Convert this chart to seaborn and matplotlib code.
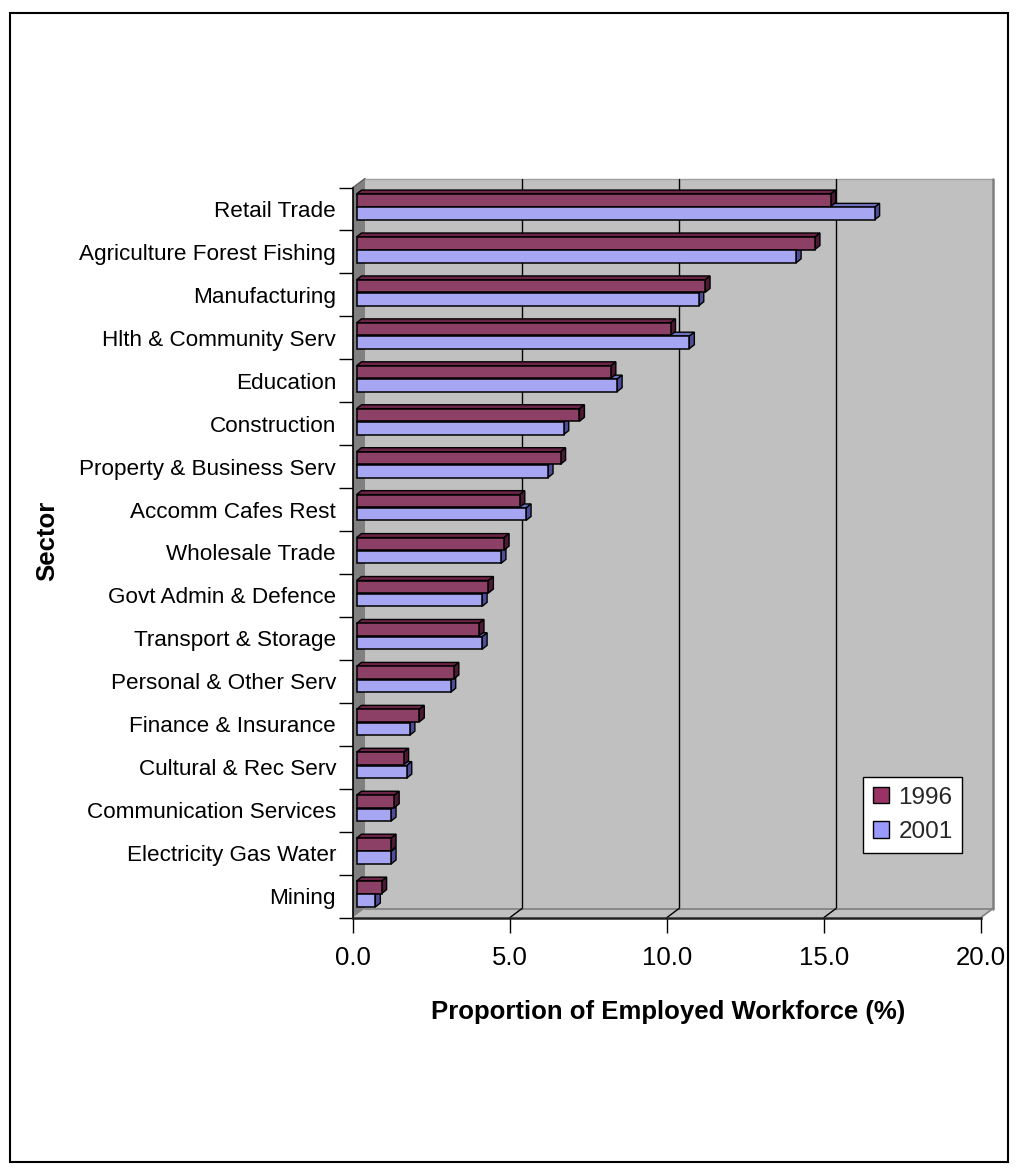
import matplotlib
matplotlib.use("Agg")
import numpy as np
import pandas as pd
import seaborn as sns
import matplotlib.pyplot as plt
from matplotlib.patches import Polygon, Rectangle
from matplotlib.lines import Line2D
from matplotlib.transforms import IdentityTransform, Affine2D

# ---------------- data ----------------
sectors = ['Retail Trade', 'Agriculture Forest Fishing', 'Manufacturing',
           'Hlth & Community Serv', 'Education', 'Construction',
           'Property & Business Serv', 'Accomm Cafes Rest', 'Wholesale Trade',
           'Govt Admin & Defence', 'Transport & Storage', 'Personal & Other Serv',
           'Finance & Insurance', 'Cultural & Rec Serv', 'Communication Services',
           'Electricity Gas Water', 'Mining']
v1996 = [15.1, 14.6, 11.1, 10.0, 8.1, 7.1, 6.5, 5.2, 4.7, 4.2, 3.9, 3.1, 2.0, 1.5, 1.2, 1.1, 0.8]
v2001 = [16.5, 14.0, 10.9, 10.6, 8.3, 6.6, 6.1, 5.4, 4.6, 4.0, 4.0, 3.0, 1.7, 1.6, 1.1, 1.1, 0.6]
years = ['1996', '2001']
xticks = [0, 5, 10, 15, 20]
xticklabels = ['0.0', '5.0', '10.0', '15.0', '20.0']

colors = ['#993366', '#9999FF']
top_cols = ['#6b2346', '#7070c0']
side_cols = ['#4d1933', '#4d4d99']

n = len(sectors)
df = pd.DataFrame({
    'Sector': sectors * 2,
    'Year': [years[0]] * n + [years[1]] * n,
    'Value': v1996 + v2001,
})

sns.set_theme(style='white')
plt.rcParams['font.family'] = ['Liberation Sans', 'DejaVu Sans']

W, H = 1018, 1176
fig = plt.figure(figsize=(W / 100, H / 100), dpi=100)
fig.patch.set_facecolor('white')

# front plane of the 3D box
L, R, T, B = 353, 981, 187.5, 917.5
ax = fig.add_axes([L / W, 1 - B / H, (R - L) / W, (B - T) / H])

sns.barplot(data=df, y='Sector', x='Value', hue='Year', orient='h',
            palette=colors, width=0.62, gap=0.06, edgecolor='black',
            linewidth=1.1, ax=ax, legend=False, zorder=3)

ax.set_xlim(0, 20)
ax.set_ylim(n - 0.5, -0.5)
ax.set_facecolor('none')

BAR = (3.5, 2.0)    # bar front face offset (pixels)
DEP = (5.0, 4.0)    # bar depth
BACK = (12.0, 9.0)  # back wall offset

bar_tr = ax.transData + Affine2D().translate(*BAR)
for p in ax.patches:
    p.set_transform(bar_tr)
    p.set_clip_on(False)


def disp(x, y, off=(0, 0)):
    X, Y = ax.transData.transform((x, y))
    return (X + off[0], Y + off[1])


def add_poly(pts, fc, ec='none', lw=0, z=1):
    poly = Polygon(pts, closed=True, facecolor=fc, edgecolor=ec, linewidth=lw,
                   transform=IdentityTransform(), zorder=z, clip_on=False)
    ax.add_artist(poly)


def add_line(p1, p2, color='black', lw=1, z=1):
    ln = Line2D([p1[0], p2[0]], [p1[1], p2[1]], color=color, linewidth=lw,
                transform=IdentityTransform(), zorder=z, clip_on=False)
    ax.add_artist(ln)


y_top, y_bot = -0.5, n - 0.5
x_min, x_max = xticks[0], xticks[-1]

# back wall
bw = [disp(x_min, y_top, BACK), disp(x_max, y_top, BACK),
      disp(x_max, y_bot, BACK), disp(x_min, y_bot, BACK)]
add_poly(bw, '#C0C0C0', z=0.5)
add_line(bw[0], bw[1], '#a0a0a0', 1, 0.6)
add_line(bw[1], bw[2], '#808080', 1.8, 0.6)
for xv in xticks[1:-1]:
    add_line(disp(xv, y_top, BACK), disp(xv, y_bot, BACK), 'black', 1.0, 0.6)

# floor
fl = [disp(x_min, y_bot), disp(x_max, y_bot),
      disp(x_max, y_bot, BACK), disp(x_min, y_bot, BACK)]
add_poly(fl, '#C0C0C0', z=0.5)
add_line(fl[2], fl[3], '#808080', 1.2, 0.6)
add_line(fl[1], fl[2], '#808080', 1.2, 0.6)
for xv in xticks[1:-1]:
    add_line(disp(xv, y_bot), disp(xv, y_bot, BACK), 'black', 1.0, 0.6)

# left side wall
lw_pts = [disp(x_min, y_top), disp(x_min, y_top, BACK),
          disp(x_min, y_bot, BACK), disp(x_min, y_bot)]
add_poly(lw_pts, '#808080', z=0.55)
add_line(lw_pts[0], lw_pts[1], '#606060', 1.0, 0.6)

# bar depth faces
for i, cont in enumerate(ax.containers):
    for p in cont.patches:
        x0, w = p.get_x(), p.get_width()
        y0, h = p.get_y(), p.get_height()
        xl, ya = disp(x0, y0, BAR)
        xr, yb_ = disp(x0 + w, y0 + h, BAR)
        yt, yb = max(ya, yb_), min(ya, yb_)
        dx, dy = DEP
        top = [(xl, yt), (xr, yt), (xr + dx, yt + dy), (xl + dx, yt + dy)]
        side = [(xr, yb), (xr, yt), (xr + dx, yt + dy), (xr + dx, yb + dy)]
        z = 1.9 + 0.05 * (len(ax.containers) - i)
        add_poly(top, top_cols[i], 'black', 1.0, z)
        add_poly(side, side_cols[i], 'black', 1.0, z)

# spines = front edges
for s in ['top', 'right']:
    ax.spines[s].set_visible(False)
ax.spines['left'].set_color('black')
ax.spines['left'].set_linewidth(1.2)
ax.spines['bottom'].set_color('#202020')
ax.spines['bottom'].set_linewidth(1.8)
ax.spines['left'].set_zorder(0.7)
ax.spines['bottom'].set_zorder(0.7)

ax.set_xticks(xticks)
ax.set_xticklabels(xticklabels, fontsize=18.5)
ax.tick_params(axis='x', bottom=True, length=10.8, width=1, color='black',
               direction='out', pad=10, labelcolor='black')

ax.set_yticks(range(n))
ax.set_yticklabels(sectors, fontsize=16.2)
ax.set_yticks(np.arange(-0.5, n, 1.0), minor=True)
ax.tick_params(axis='y', which='major', left=False, length=0, pad=12.2,
               labelcolor='black')
ax.tick_params(axis='y', which='minor', left=True, length=10, width=1,
               color='black', direction='out')

ax.set_xlabel('Proportion of Employed Workforce (%)', fontsize=18.5,
              fontweight='bold', color='black')
ax.xaxis.set_label_coords((668 - L) / (R - L), (B - 1012) / (B - T))
ax.xaxis.label.set_va('center')
ax.set_ylabel('Sector', fontsize=18.5, fontweight='bold', color='black')
ax.yaxis.set_label_coords((47 - L) / (R - L), (B - 541) / (B - T))
ax.yaxis.label.set_va('center')

# legend
handles = [Rectangle((0, 0), 1, 1, facecolor=c, edgecolor='black', linewidth=1)
           for c in colors]
leg = ax.legend(handles, years, loc='upper left',
                bbox_to_anchor=(863 / W, 1 - 777 / H),
                bbox_transform=fig.transFigure, borderaxespad=0,
                fontsize=17.5, frameon=True, fancybox=False, framealpha=1,
                edgecolor='black', handlelength=0.66, handleheight=0.66,
                handletextpad=0.4, labelspacing=0.5, borderpad=0.4)
leg.get_frame().set_linewidth(1.0)
leg.set_zorder(5)

# outer border
fig.add_artist(Rectangle((10 / W, 1 - 1162 / H), (1008 - 10) / W, (1162 - 13) / H,
                         transform=fig.transFigure, fill=False,
                         edgecolor='black', linewidth=1.5))

fig.savefig('out.png', dpi=100)
